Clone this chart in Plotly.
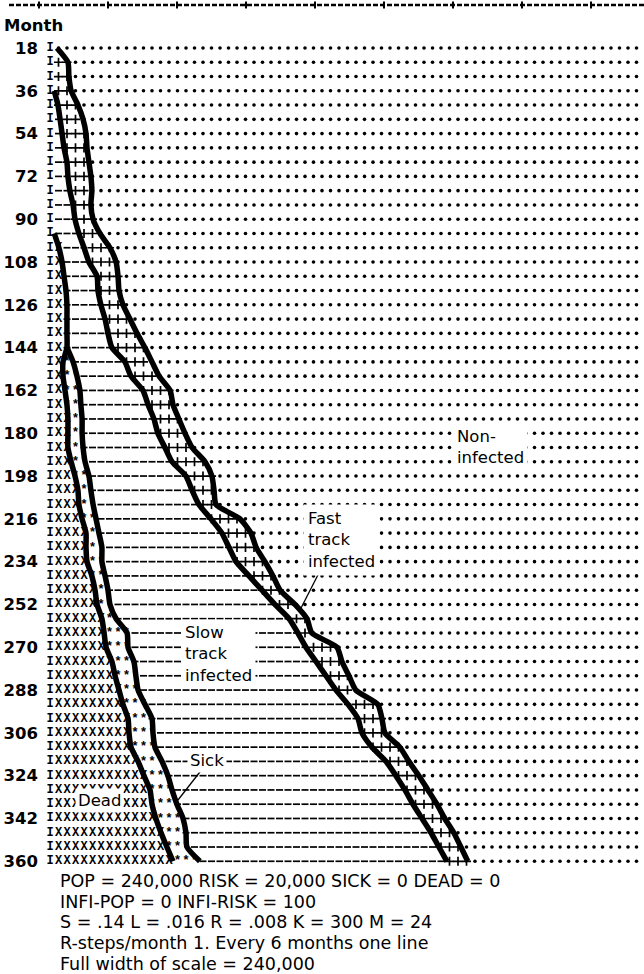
import plotly.graph_objects as go

# ---------------- data (population in thousands) ----------------
months = [18, 24, 30, 36, 42, 48, 54, 60, 66, 72, 78, 84, 90, 96, 102, 108, 114, 120,
          126, 132, 138, 144, 150, 156, 162, 168, 174, 180, 186, 192, 198, 204, 210,
          216, 222, 228, 234, 240, 246, 252, 258, 264, 270, 276, 282, 288, 294, 300,
          306, 312, 318, 324, 330, 336, 342, 348, 354, 360]

dead = [0, 0, 0, 0, 0, 0, 0, 0, 0, 0, 0, 0, 0, 0,
        1.9, 3.2, 4.0, 4.8, 5.2, 5.2, 5.2, 5.2,
        3.6, 3.6, 4.4, 5.2, 5.6, 5.6, 5.6,
        6.9, 8.5, 9.7, 10.1, 11.4, 13.0, 13.0, 13.4, 15.4,
        16.7, 17.5, 19.5, 20.4, 21.2, 23.6, 24.9, 26.5, 28.1, 30.2,
        30.6, 31.4, 34.3, 36.7, 39.2, 40.0, 41.6, 43.7, 46.1, 48.6]

sick = [0, 0, 0, 0, 0, 0, 0, 0, 0, 0, 0, 0, 0, 0,
        0, 0, 0, 0, 0, 0, 0, 0,
        4.1, 5.7, 6.1, 5.7, 5.8, 5.8, 6.2,
        5.7, 5.7, 5.3, 5.8, 5.7, 5.3, 6.5, 6.1, 5.4,
        5.3, 5.3, 5.8, 9.4, 9.0, 9.0, 8.5, 7.8, 9.0, 9.8,
        9.8, 9.8, 9.8, 9.8, 9.0, 10.2, 11.1, 10.2, 8.2, 11.0]

slow_infected = [0, 0, 0, 0, 1.5, 2.4, 3.2, 4.0, 5.2, 5.6, 6.4, 7.7, 8.5, 10.1,
                 10.3, 11.0, 13.5, 13.1, 13.9, 15.6, 16.8, 18.4,
                 21.2, 22.1, 25.8, 27.5, 29.4, 31.0, 33.5,
                 35.6, 39.7, 41.4, 43.3, 47.0, 50.3, 52.0, 54.9, 58.9,
                 63.0, 67.5, 70.8, 69.9, 72.8, 74.5, 77.8, 81.0, 83.1, 84.3,
                 85.5, 88.8, 91.7, 93.3, 95.3, 96.6, 97.8, 100.3, 103.1, 101.1]

fast_infected = [1.1, 5.6, 6.0, 6.9, 8.2, 9.4, 9.8, 9.4, 9.0, 9.4, 9.0, 7.3, 7.4, 8.6,
                 10.6, 11.1, 8.6, 8.6, 9.0, 10.2, 11.9, 13.5,
                 11.1, 11.5, 11.1, 10.2, 10.2, 11.1, 11.1,
                 13.5, 10.6, 9.0, 7.0, 11.9, 11.9, 11.1, 11.8, 9.8,
                 7.4, 8.2, 7.3, 5.7, 12.7, 10.6, 9.4, 8.1, 12.2, 9.8,
                 9.4, 11.4, 9.3, 9.4, 9.4, 9.8, 9.3, 9.3, 9.0, 8.5]

month_ticks = [18, 36, 54, 72, 90, 108, 126, 144, 162, 180, 198, 216, 234, 252,
               270, 288, 306, 324, 342, 360]

footer_lines = [
    "POP = 240,000 RISK = 20,000 SICK = 0 DEAD = 0",
    "INFI-POP = 0 INFI-RISK = 100",
    "S = .14 L = .016 R = .008 K = 300 M = 24",
    "R-steps/month 1. Every 6 months one line",
    "Full width of scale = 240,000",
]

POP = 240.0       # full width of scale, thousands
NCOL = 69         # print columns across the scale

# ---------------- derived edges ----------------
edge1 = [d for d in dead]
edge2 = [a + b for a, b in zip(edge1, sick)]
edge3 = [a + b for a, b in zip(edge2, slow_infected)]
edge4 = [a + b for a, b in zip(edge3, fast_infected)]

unit = POP / NCOL

# ---------------- geometry ----------------
W, H = 644, 974
ML = 41
X_LEFT, X_RIGHT = -5.42, 241.33
Y_TOP, Y_BOT = -2.18, 407.4


def px2x(px):
    return X_LEFT + (px - ML) / (W - ML) * (X_RIGHT - X_LEFT)


def px2paper(px):
    return (px - ML) / (W - ML)


def py2y(py):
    return Y_TOP + py / H * (Y_BOT - Y_TOP)


def py2paper(py):
    return 1 - py / H


# ---------------- characters ----------------
chars = {"I": ([], []), "X": ([], []), "*": ([], []), "-": ([], []), "+": ([], []), ".": ([], [])}
for i, m in enumerate(months):
    chars["I"][0].append(-0.5 * unit)
    chars["I"][1].append(m)
    for k in range(1, NCOL + 1):
        c = (k - 0.5) * unit
        if c < edge1[i]:
            ch = "X"
        elif c < edge2[i]:
            ch = "*"
        elif c < edge3[i]:
            ch = "-"
        elif c < edge4[i]:
            ch = "+"
        else:
            ch = "."
        chars[ch][0].append(c)
        chars[ch][1].append(m)

fig = go.Figure()

text_styles = {
    "I": dict(family="Liberation Mono", size=12, color="black", weight="bold"),
    "X": dict(family="Liberation Mono", size=12, color="black", weight="bold"),
    "*": dict(family="Liberation Mono", size=12.5, color="black", weight="bold"),
}
for ch, tf in text_styles.items():
    xs, ys = chars[ch]
    fig.add_trace(go.Scatter(x=xs, y=ys, mode="text", text=[ch] * len(xs),
                             textposition="middle center", textfont=tf,
                             hoverinfo="skip", showlegend=False))

marker_styles = {
    ".": dict(symbol="circle", size=3.6, color="black"),
    "-": dict(symbol="line-ew", size=5, color="black", line=dict(width=1.7, color="black")),
    "+": dict(symbol="cross-thin", size=6.5, color="black", line=dict(width=1.7, color="black")),
}
for ch, mk in marker_styles.items():
    xs, ys = chars[ch]
    fig.add_trace(go.Scatter(x=xs, y=ys, mode="markers", marker=mk,
                             hoverinfo="skip", showlegend=False))


# ---------------- thick boundary lines ----------------
def start_index(band):
    for j, v in enumerate(band):
        if v > 0:
            return max(0, j - 1)
    return 0


for edge, band in [(edge1, dead), (edge2, sick), (edge3, slow_infected), (edge4, fast_infected)]:
    s = start_index(band)
    fig.add_trace(go.Scatter(x=edge[s:], y=months[s:], mode="lines",
                             line=dict(color="black", width=5.5, shape="spline", smoothing=0.6),
                             hoverinfo="skip", showlegend=False))

# ---------------- annotations ----------------
label_font = dict(family="DejaVu Sans", size=16.5, color="black")
ann = []


def label(text, px, py, pad=2):
    ann.append(dict(x=px2x(px), y=py2y(py), xref="x", yref="y", text=text,
                    showarrow=False, xanchor="left", yanchor="middle", align="left",
                    font=label_font, bgcolor="white", borderpad=pad))


label("Non-<br>infected", 453, 447, 3)
label("Fast<br>track<br>infected", 303, 540, 4)
label("Slow<br>track<br>infected", 181, 654, 3)
label("Sick", 187, 760, 2)
label("Dead", 75, 800, 2)

for i, t in enumerate(footer_lines):
    ann.append(dict(x=px2x(58), y=py2y(881 + i * 20.7), xref="x", yref="y", text=t,
                    showarrow=False, xanchor="left", yanchor="middle",
                    font=dict(family="DejaVu Sans", size=17.5, color="black")))

ann.append(dict(x=px2paper(2), y=py2y(25), xref="paper", yref="y", text="Month",
                showarrow=False, xanchor="left", yanchor="middle",
                font=dict(family="DejaVu Sans", size=16.5, color="black", weight="bold")))

# ---------------- decorative shapes ----------------
shapes = [
    dict(type="line", x0=px2x(323), y0=py2y(565), x1=px2x(299), y1=py2y(612),
         xref="x", yref="y", line=dict(color="black", width=1.3)),
    dict(type="line", x0=px2x(203), y0=py2y(768), x1=px2x(178), y1=py2y(800),
         xref="x", yref="y", line=dict(color="black", width=1.3)),
    # printer ruler along the top edge
    dict(type="line", x0=px2paper(9), x1=px2paper(644), y0=py2paper(5), y1=py2paper(5),
         xref="paper", yref="paper", line=dict(color="black", width=2.5, dash="5px,2px")),
]
for k in range(10):
    tx = 39 + 69 * k
    shapes.append(dict(type="line", x0=px2paper(tx), x1=px2paper(tx),
                       y0=py2paper(1.5), y1=py2paper(8.5), xref="paper", yref="paper",
                       line=dict(color="black", width=2)))

fig.update_layout(
    width=W, height=H,
    margin=dict(l=ML, r=0, t=0, b=0),
    paper_bgcolor="white", plot_bgcolor="white",
    xaxis=dict(range=[X_LEFT, X_RIGHT], visible=False, fixedrange=True),
    yaxis=dict(range=[Y_BOT, Y_TOP], tickvals=month_ticks, ticks="", showgrid=False,
               zeroline=False, showline=False, ticklabelstandoff=2,
               tickfont=dict(family="DejaVu Sans", size=16.5, color="black", weight="bold")),
    annotations=ann,
    shapes=shapes,
    showlegend=False,
)

fig.write_html("out.html")
